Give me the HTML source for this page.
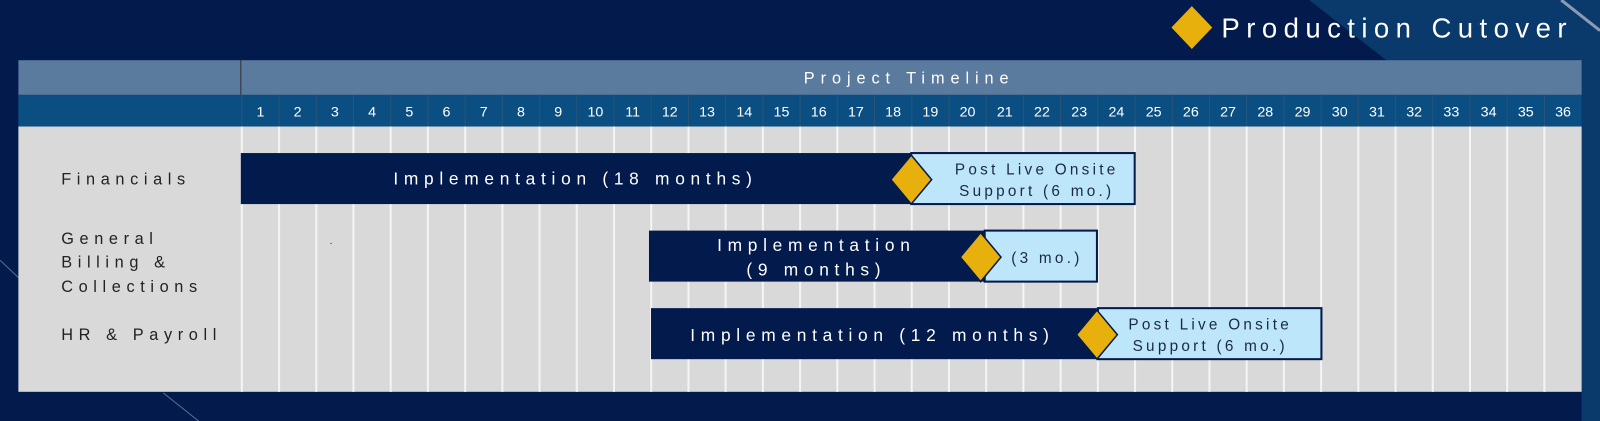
<!DOCTYPE html>
<html><head><style>
body{margin:0;width:1600px;height:421px;overflow:hidden;background:#031a4c;font-family:"Liberation Sans",sans-serif;}
</style></head><body>
<svg width="1600" height="421" viewBox="0 0 1568 412.6" preserveAspectRatio="none" xmlns="http://www.w3.org/2000/svg" style="position:absolute;left:0;top:0">
<rect width="1568" height="413" fill="#031a4c"/>
<polygon points="1283,0 1568,0 1568,60 1360,60" fill="#0a3a6b"/>
<rect x="1550" y="0" width="18" height="413" fill="#0a3a6b"/>
<line x1="1530" y1="0" x2="1568" y2="30" stroke="#8a9ab5" stroke-width="3"/>
<line x1="0" y1="255" x2="18" y2="272" stroke="#5a6f95" stroke-width="1"/>
<line x1="160" y1="385" x2="195" y2="413" stroke="#5a6f95" stroke-width="1"/>
<polygon points="1168,6 1188,27 1168,48 1148,27" fill="#e8b00c"/>
<text x="1197" y="37" fill="#fff" font-size="27" letter-spacing="6.3">Production Cutover</text>
<rect x="18" y="59" width="1532" height="34" fill="#5a7a9e"/>
<line x1="236" y1="59" x2="236" y2="93" stroke="#333" stroke-width="1"/>
<text x="891" y="82" fill="#fff" font-size="16" letter-spacing="5.8" text-anchor="middle">Project Timeline</text>
<rect x="18" y="93" width="1532" height="31" fill="#0b4f82"/>
<rect x="18" y="124" width="1532" height="260" fill="#d9d9d9"/>
<g id="cols"></g>
<g fill="#222" font-size="16" letter-spacing="5.5">
<text x="60" y="181">Financials</text>
<text x="60" y="239">General</text>
<text x="60" y="262">Billing &amp;</text>
<text x="60" y="286">Collections</text>
<text x="60" y="333">HR &amp; Payroll</text>
</g>
<text x="323" y="239" fill="#222" font-size="10">.</text>
<rect x="236" y="150" width="657" height="50" fill="#031a4c"/>
<rect x="893" y="150" width="219" height="50" fill="#bde6fb" stroke="#031a4c" stroke-width="2"/>
<text x="564" y="181" fill="#fff" font-size="17" letter-spacing="5.6" text-anchor="middle">Implementation (18 months)</text>
<text x="1016" y="171" fill="#1a2a45" font-size="15" letter-spacing="3.2" text-anchor="middle">Post Live Onsite</text>
<text x="1016" y="192" fill="#1a2a45" font-size="15" letter-spacing="3.2" text-anchor="middle">Support (6 mo.)</text>
<polygon points="893,152 913,176 893,200 873,176" fill="#e8b00c" stroke="#031a4c" stroke-width="1.5"/>
<rect x="636" y="226" width="329" height="50" fill="#031a4c"/>
<rect x="965" y="226" width="110" height="50" fill="#bde6fb" stroke="#031a4c" stroke-width="2"/>
<text x="800" y="246" fill="#fff" font-size="17" letter-spacing="5.6" text-anchor="middle">Implementation</text>
<text x="800" y="270" fill="#fff" font-size="17" letter-spacing="5.6" text-anchor="middle">(9 months)</text>
<text x="1026" y="258" fill="#1a2a45" font-size="15" letter-spacing="3.2" text-anchor="middle">(3 mo.)</text>
<polygon points="961,228 981,252 961,276 941,252" fill="#e8b00c" stroke="#031a4c" stroke-width="1.5"/>
<rect x="638" y="302" width="438" height="50" fill="#031a4c"/>
<rect x="1076" y="302" width="219" height="50" fill="#bde6fb" stroke="#031a4c" stroke-width="2"/>
<text x="855" y="334" fill="#fff" font-size="17" letter-spacing="5.6" text-anchor="middle">Implementation (12 months)</text>
<text x="1186" y="323" fill="#1a2a45" font-size="15" letter-spacing="3.2" text-anchor="middle">Post Live Onsite</text>
<text x="1186" y="344" fill="#1a2a45" font-size="15" letter-spacing="3.2" text-anchor="middle">Support (6 mo.)</text>
<polygon points="1075,304 1095,328 1075,352 1055,328" fill="#e8b00c" stroke="#031a4c" stroke-width="1.5"/>
</svg>
<script>
var g=document.getElementById('cols');var s='';
var w=(1550-237)/36;
for(var k=0;k<36;k++){var x=237+k*w;
s+='<line x1="'+x+'" y1="93" x2="'+x+'" y2="124" stroke="#2a5478" stroke-width="1"/>';
s+='<line x1="'+x+'" y1="124" x2="'+x+'" y2="384" stroke="#f4f4f4" stroke-width="2"/>';
s+='<text x="'+(x+w/2)+'" y="114" fill="#fff" font-size="14" text-anchor="middle">'+(k+1)+'</text>';}
g.innerHTML=s;
</script>
</body></html>
